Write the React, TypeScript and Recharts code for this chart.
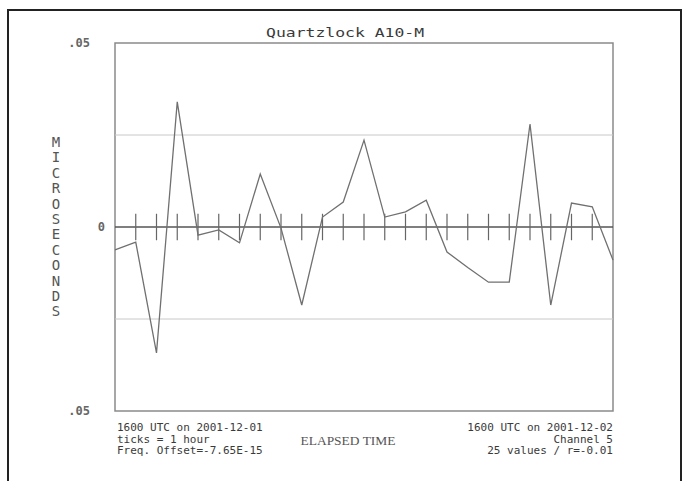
import React from "react";
import {
  LineChart,
  Line,
  XAxis,
  YAxis,
  ReferenceLine,
  ReferenceArea,
} from "recharts";

const hours = [
  0, 1, 2, 3, 4, 5, 6, 7, 8, 9, 10, 11, 12, 13, 14, 15, 16, 17, 18, 19, 20, 21,
  22, 23, 24,
];
const offsets = [
  -0.0062, -0.0041, -0.0342, 0.034, -0.0022, -0.0008, -0.0043, 0.0144, -0.0003,
  -0.0212, 0.0027, 0.0068, 0.0236, 0.0027, 0.0041, 0.0073, -0.0068, -0.011,
  -0.015, -0.015, 0.028, -0.0212, 0.0065, 0.0055, -0.009,
];
const yTicks = [-0.05, 0, 0.05];
const yTickLabels = [".05", "0", ".05"];
const gridValues = [-0.025, 0.025];
const tickHours = hours.slice(1, -1);
const yLabel = "MICROSECONDS";
const leftNotes = ["1600 UTC on 2001-12-01", "ticks = 1 hour", "Freq. Offset=-7.65E-15"];
const rightNotes = ["1600 UTC on 2001-12-02", "Channel 5", "25 values / r=-0.01"];

const data = hours.map((h, i) => ({ hour: h, value: offsets[i] }));

const mono = "'DejaVu Sans Mono', 'Liberation Mono', monospace";
const ink = "#3a3a3a";
const tickHalf = 0.0036;

function YTick(props: any) {
  const { y, payload } = props;
  const idx = yTicks.indexOf(payload.value);
  const label = yTickLabels[idx] ?? String(payload.value);
  // axis edge sits at x=115
  const right = payload.value === 0 ? 105 : 90;
  return (
    <text
      x={right}
      y={y + 4}
      textAnchor="end"
      fontFamily={mono}
      fontSize={12}
      fontWeight="bold"
      fill="#666"
    >
      {label}
    </text>
  );
}

export default function App() {
  return (
    <div
      style={{
        position: "absolute",
        left: 0,
        top: 0,
        width: 688,
        height: 481,
        background: "#fff",
        overflow: "hidden",
      }}
    >
      <div
        style={{
          position: "absolute",
          left: 7,
          top: 9,
          width: 675,
          height: 490,
          border: "2px solid #222",
          boxSizing: "border-box",
        }}
      />
      <LineChart
        width={688}
        height={481}
        data={data}
        margin={{ top: 43, right: 75, bottom: 70, left: 0 }}
        style={{ position: "absolute", left: 0, top: 0 }}
      >
        <XAxis dataKey="hour" type="number" domain={[0, 24]} hide />
        <YAxis
          type="number"
          domain={[-0.05, 0.05]}
          ticks={yTicks}
          width={115}
          axisLine={false}
          tickLine={false}
          tick={YTick}
          interval={0}
        />
        {gridValues.map((v) => (
          <ReferenceLine key={v} y={v} stroke="#c8c8c8" strokeWidth={1} />
        ))}
        <ReferenceArea
          x1={0}
          x2={24}
          y1={-0.05}
          y2={0.05}
          fill="none"
          stroke="#8a8a8a"
          strokeWidth={1.5}
          ifOverflow="visible"
        />
        <ReferenceLine y={0} stroke="#555" strokeWidth={1.3} />
        {tickHours.map((h) => (
          <ReferenceLine
            key={h}
            segment={[
              { x: h, y: -tickHalf },
              { x: h, y: tickHalf },
            ]}
            stroke="#666"
            strokeWidth={1.2}
          />
        ))}
        <Line
          type="linear"
          dataKey="value"
          stroke="#707070"
          strokeWidth={1.3}
          dot={false}
          isAnimationActive={false}
        />
      </LineChart>
      <svg
        width={688}
        height={481}
        style={{ position: "absolute", left: 0, top: 0, pointerEvents: "none" }}
      >
        <text
          x={345}
          y={37}
          textAnchor="middle"
          fontFamily={mono}
          fontSize={12}
          fill={ink}
          textLength={158}
          lengthAdjust="spacingAndGlyphs"
        >
          Quartzlock A10-M
        </text>
        {yLabel.split("").map((ch, i) => (
          <text
            key={i}
            x={56}
            y={147 + i * 15.4}
            textAnchor="middle"
            fontFamily={mono}
            fontSize={14}
            fill="#555"
          >
            {ch}
          </text>
        ))}
        {leftNotes.map((t, i) => (
          <text
            key={t}
            x={117}
            y={431 + i * 11.5}
            fontFamily={mono}
            fontSize={11}
            fill={ink}
          >
            {t}
          </text>
        ))}
        {rightNotes.map((t, i) => (
          <text
            key={t}
            x={613}
            y={431 + i * 11.5}
            textAnchor="end"
            fontFamily={mono}
            fontSize={11}
            fill={ink}
          >
            {t}
          </text>
        ))}
        <text
          x={348}
          y={445}
          textAnchor="middle"
          fontFamily="'Liberation Serif', serif"
          fontSize={13}
          fill="#555"
          textLength={95}
          lengthAdjust="spacingAndGlyphs"
        >
          ELAPSED TIME
        </text>
      </svg>
    </div>
  );
}
